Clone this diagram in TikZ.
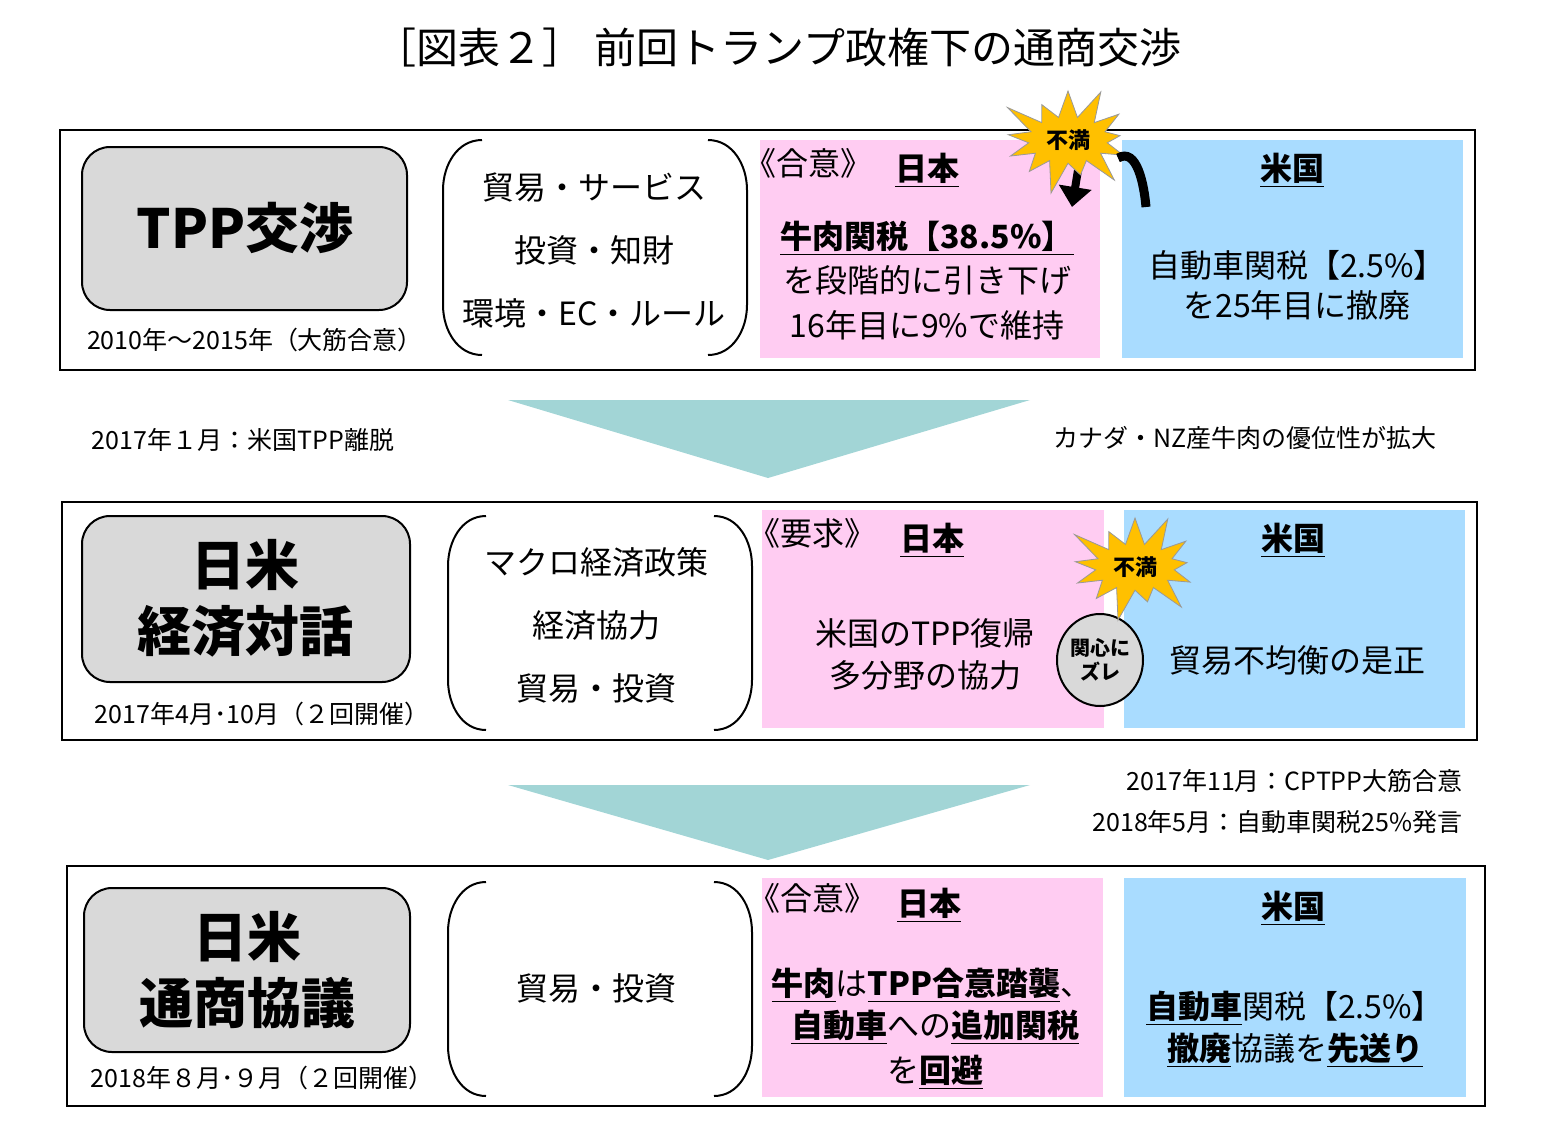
\documentclass[tikz,border=0pt]{standalone}
\usepackage{fontspec}
\setmainfont{Noto Sans CJK JP}
\usetikzlibrary{shapes.symbols,shapes.geometric,arrows.meta}
\definecolor{pk}{HTML}{FFCCF2}
\definecolor{bl}{HTML}{A9DCFF}
\definecolor{gr}{HTML}{D9D9D9}
\definecolor{tl}{HTML}{A2D5D6}
\definecolor{yl}{HTML}{FFC000}
\tikzset{x=0.5pt,y=-0.5pt,
panel/.style={draw,line width=1.2pt},
graybox/.style={draw,fill=gr,rounded corners=14pt,line width=1pt},
bigt/.style={font=\fontsize{27}{31}\selectfont\bfseries,align=center,inner sep=0},
tx/.style={font=\fontsize{16}{19}\selectfont,inner sep=0},
sm/.style={font=\fontsize{12.5}{14}\selectfont,inner sep=0},
brk/.style={line width=1pt},
burst/.style={starburst,starburst points=13,starburst point height=18pt,fill=yl,draw=black!40,inner sep=3pt,font=\fontsize{11}{12}\selectfont\bfseries},
tri/.style={fill=tl,draw=none}}
\newcommand{\ub}[1]{\underline{\textbf{#1}}}
\begin{document}
\begin{tikzpicture}
\useasboundingbox (0,0) rectangle (1554,1147);
\node[font=\fontsize{21}{24}\selectfont,inner sep=0] (title) at (778,48) {［図表２］ 前回トランプ政権下の通商交渉};
% ---------- Panel 1
\draw[panel] (60,130) rectangle (1475,370);
\draw[graybox] (82,147) rectangle (407,310);
\node[bigt] (g1) at (245,228) {TPP交渉};
\node[sm] (d1) at (255,340) {2010年～2015年（大筋合意）};
\draw[brk] (482,140) to[out=180,in=90] (443,190) -- (443,305) to[out=-90,in=180] (482,355);
\draw[brk] (708,140) to[out=0,in=90] (747,190) -- (747,305) to[out=-90,in=0] (708,355);
\node[tx] (a1) at (594,187) {貿易・サービス};
\node[tx] (a2) at (594,250) {投資・知財};
\node[tx] (a3) at (594,313) {環境・EC・ルール};
\fill[pk] (760,140) rectangle (1100,358);
\fill[bl] (1122,140) rectangle (1463,358);
\node[tx] (k1) at (808,163) {《合意》};
\node[tx] (j1) at (927,170) {\ub{日本}};
\node[tx] (p11) at (927,238) {\ub{牛肉関税【38.5\%】}};
\node[tx] (p12) at (927,280) {を段階的に引き下げ};
\node[tx] (p13) at (927,325) {16年目に9\%で維持};
\node[tx] (u1) at (1292,170) {\ub{米国}};
\node[tx] (b11) at (1297,265) {自動車関税【2.5\%】};
\node[tx] (b12) at (1297,305) {を25年目に撤廃};
\coordinate (s1s) at (1078,170);
\coordinate (s1e) at (1072,207);
\draw[line width=4pt,-{Triangle[length=10pt,width=16pt]}] (s1s) -- (s1e);
\node[burst] (s1) at (1068,140) {不満};
\coordinate (c1a) at (1118,158);
\coordinate (c1b) at (1146,207);
\draw[line width=4.5pt] (c1a) to[out=30,in=95] (c1b);
% arrow 1
\fill[tri] (508,400) -- (1030,400) -- (768,478) -- cycle;
\node[sm] (t1) at (243,440) {2017年１月：米国TPP離脱};
\node[sm] (t2) at (1245,438) {カナダ・NZ産牛肉の優位性が拡大};
% ---------- Panel 2
\draw[panel] (62,502) rectangle (1477,740);
\draw[graybox] (82,516) rectangle (410,682);
\node[bigt] (g2) at (245,598) {日米\\[2pt]経済対話};
\node[sm] (d2) at (262,714) {2017年4月･10月（２回開催）};
\draw[brk] (486,516) to[out=180,in=90] (448,566) -- (448,680) to[out=-90,in=180] (486,730);
\draw[brk] (714,516) to[out=0,in=90] (752,566) -- (752,680) to[out=-90,in=0] (714,730);
\node[tx] (a4) at (596,562) {マクロ経済政策};
\node[tx] (a5) at (596,625) {経済協力};
\node[tx] (a6) at (596,688) {貿易・投資};
\fill[pk] (762,510) rectangle (1104,728);
\fill[bl] (1124,510) rectangle (1465,728);
\node[tx] (k2) at (812,533) {《要求》};
\node[tx] (j2) at (932,540) {\ub{日本}};
\node[tx] (u2) at (1293,540) {\ub{米国}};
\node[tx] (p21) at (925,633) {米国のTPP復帰};
\node[tx] (p22) at (925,675) {多分野の協力};
\node[tx] (b21) at (1297,660) {貿易不均衡の是正};
\node[draw,fill=gr,ellipse,minimum width=43pt,minimum height=46pt,inner sep=0,font=\fontsize{10}{12}\selectfont\bfseries,align=center,line width=1pt] (e2) at (1100,660) {関心に\\ズレ};
\node[burst] (s2) at (1135,567) {不満};
% arrow 2
\fill[tri] (508,785) -- (1030,785) -- (768,860) -- cycle;
\node[sm,anchor=east] (t3) at (1463,781) {2017年11月：CPTPP大筋合意};
\node[sm,anchor=east] (t4) at (1463,822) {2018年5月：自動車関税25\%発言};
% ---------- Panel 3
\draw[panel] (67,866) rectangle (1485,1106);
\draw[graybox] (84,888) rectangle (410,1052);
\node[bigt] (g3) at (247,970) {日米\\[2pt]通商協議};
\node[sm] (d3) at (262,1078) {2018年８月･９月（２回開催）};
\draw[brk] (486,882) to[out=180,in=90] (448,932) -- (448,1046) to[out=-90,in=180] (486,1096);
\draw[brk] (714,882) to[out=0,in=90] (752,932) -- (752,1046) to[out=-90,in=0] (714,1096);
\node[tx] (a7) at (596,988) {貿易・投資};
\fill[pk] (762,878) rectangle (1103,1097);
\fill[bl] (1124,878) rectangle (1466,1097);
\node[tx] (k3) at (812,898) {《合意》};
\node[tx] (j3) at (929,905) {\ub{日本}};
\node[tx] (u3) at (1293,908) {\ub{米国}};
\node[tx] (p31) at (932,985) {\ub{牛肉}は\ub{TPP合意踏襲}、};
\node[tx] (p32) at (935,1027) {\ub{自動車}への\ub{追加関税}};
\node[tx] (p33) at (935,1072) {を\ub{回避}};
\node[tx] (b31) at (1295,1008) {\ub{自動車}関税【2.5\%】};
\node[tx] (b32) at (1295,1050) {\ub{撤廃}協議を\ub{先送り}};
\end{tikzpicture}
\end{document}
